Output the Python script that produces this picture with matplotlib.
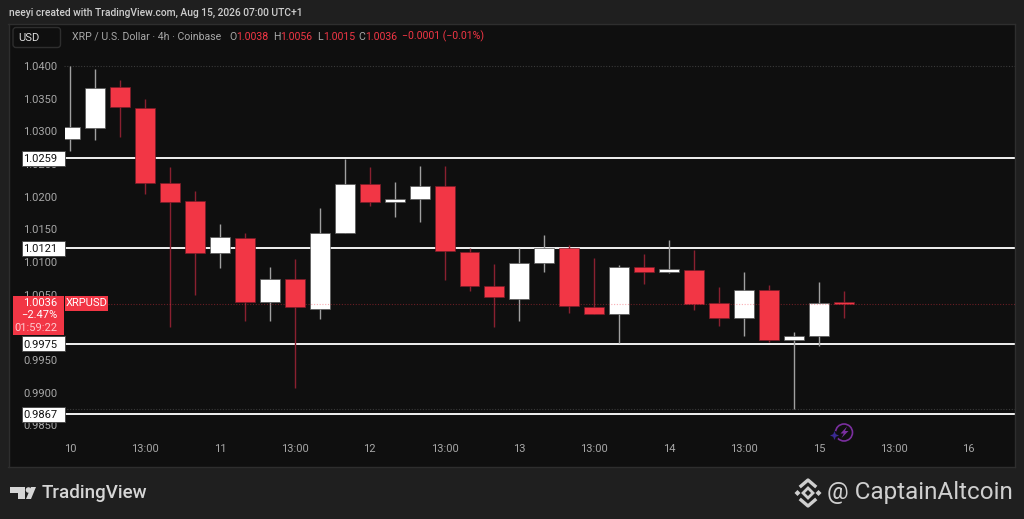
import matplotlib
matplotlib.use("Agg")
import matplotlib.pyplot as plt
from matplotlib.patches import Rectangle, FancyBboxPatch, Polygon, Circle
from matplotlib.transforms import blended_transform_factory, Bbox, TransformedBbox

plt.rcParams['font.family'] = ['Roboto', 'DejaVu Sans']

# candles, 4h bars starting Aug 10 00:00
opens = [1.0289, 1.0305, 1.0368, 1.0336, 1.0221, 1.0193, 1.0113, 1.0136, 1.0039, 1.0074, 1.0028,
         1.0144, 1.0220, 1.0192, 1.0196, 1.0217, 1.0116, 1.0063, 1.0044, 1.0099, 1.0122, 1.0031,
         1.0021, 1.0092, 1.0085, 1.0088, 1.0037, 1.0015, 1.0057, 0.9980, 0.9986, 1.0038]
highs = [1.0400, 1.0395, 1.0379, 1.0349, 1.0246, 1.0209, 1.0158, 1.0145, 1.0092, 1.0104, 1.0182,
         1.0257, 1.0246, 1.0222, 1.0247, 1.0247, 1.0122, 1.0097, 1.0122, 1.0142, 1.0126, 1.0106,
         1.0095, 1.0112, 1.0134, 1.0119, 1.0062, 1.0084, 1.0065, 0.9993, 1.0070, 1.0056]
lows = [1.0270, 1.0286, 1.0292, 1.0204, 1.0001, 1.0049, 1.0091, 1.0010, 1.0009, 0.9907, 1.0012,
        1.0144, 1.0186, 1.0169, 1.0161, 1.0073, 1.0055, 1.0001, 1.0010, 1.0084, 1.0022, 1.0020,
        0.9976, 1.0067, 1.0083, 1.0026, 1.0002, 0.9986, 0.9978, 0.9875, 0.9972, 1.0015]
closes = [1.0307, 1.0367, 1.0337, 1.0221, 1.0192, 1.0114, 1.0138, 1.0039, 1.0074, 1.0031, 1.0145,
          1.0219, 1.0192, 1.0196, 1.0217, 1.0117, 1.0063, 1.0046, 1.0099, 1.0122, 1.0033, 1.0021,
          1.0092, 1.0085, 1.0090, 1.0036, 1.0015, 1.0057, 0.9981, 0.9987, 1.0037, 1.0036]

level_prices = [1.0259, 1.0121, 0.9975, 0.9867]
y_ticks = [1.04, 1.035, 1.03, 1.025, 1.02, 1.015, 1.01, 1.005, 1.0, 0.995, 0.99, 0.985]
x_tick_pos = [0, 3, 6, 9, 12, 15, 18, 21, 24, 27, 30, 33, 36]
x_tick_labels = ['10', '13:00', '11', '13:00', '12', '13:00', '13', '13:00', '14', '13:00', '15', '13:00', '16']
range_high = 1.04
range_low = 0.9875
last_close = 1.0036

BG = '#1f1f1f'
PANEL = '#0f0f0f'
RED = '#f23645'
WHITE = '#ffffff'
W, H = 1024, 519

fig = plt.figure(figsize=(W / 100, H / 100), dpi=100, facecolor=BG)

# main chart panel, edges in pixels
left, right, top, bottom = 8.5, 1015, 23.5, 466.5
ax = fig.add_axes([left / W, 1 - bottom / H, (right - left) / W, (bottom - top) / H], facecolor=PANEL)

px_per_bar = 24.95
px_per_unit = 6533
x0 = 70.3
y0 = 66
ax.set_xlim((left - x0) / px_per_bar, (right - x0) / px_per_bar)
ax.set_ylim(range_high - (bottom - y0) / px_per_unit, range_high - (top - y0) / px_per_unit)

for s in ax.spines.values():
    s.set_color('#2e2e2e')
    s.set_linewidth(1)

ax.set_yticks(y_ticks)
ax.set_yticklabels([f'{v:.4f}' for v in y_ticks])
ax.tick_params(axis='y', length=0, pad=-35, labelcolor='#a8a8a8', labelsize=8)
ax.set_xticks(x_tick_pos)
ax.set_xticklabels(x_tick_labels)
ax.tick_params(axis='x', length=0, pad=-16, labelcolor='#a8a8a8', labelsize=8)

# x position of the price scale edge as axes fraction
scale_edge = (64 - left) / (right - left)
label_edge = (108 - left) / (right - left)
# candle bodies get cut off at the price scale
chart_clip = TransformedBbox(Bbox([[scale_edge + 0.001, 0], [1, 1]]), ax.transAxes)

# range markers and support/resistance lines sit behind candles
for p in (range_high, range_low):
    ax.axhline(p, xmin=scale_edge, color='#3a3a3a', lw=0.8, ls=(0, (1, 1.5)), zorder=1)
for p in level_prices:
    ax.axhline(p, xmin=scale_edge, color='#f2f2f2', lw=1.4, zorder=2)

for i in range(len(opens)):
    up = closes[i] > opens[i]
    wick = '#a0a0a0' if up else '#8a2030'
    ax.vlines(i, lows[i], highs[i], color=wick, lw=1, zorder=3)
    bot = min(opens[i], closes[i])
    hgt = max(abs(closes[i] - opens[i]), 0.0003)
    bars = ax.bar(i, hgt, bottom=bot, width=0.8, color=WHITE if up else RED,
                  edgecolor='#555555' if up else '#7a1c28', linewidth=0.5, zorder=4)
    bars[0].set_clip_box(chart_clip)

ax.axhline(last_close, xmin=label_edge, color=RED, alpha=0.4, lw=0.8, ls=(0, (1, 1.5)), zorder=5)

# labels on the price scale, x in axes fraction and y in data
tr = blended_transform_factory(ax.transAxes, ax.transData)
box_l = (22 - left) / (right - left)
box_w = (64.5 - 22) / (right - left)
for p in level_prices:
    ax.add_patch(Rectangle((box_l, p - 7.5 / px_per_unit), box_w, 15 / px_per_unit, transform=tr,
                           facecolor=WHITE, edgecolor='#444444', lw=0.6, zorder=7, clip_on=False))
    ax.text((57 - left) / (right - left), p, f'{p:.4f}', transform=tr, ha='right', va='center_baseline',
            color='#111111', fontsize=8, zorder=8)

# overlay in pixel coordinates for header, legend and logos
ov = fig.add_axes([0, 0, 1, 1], facecolor='none')
ov.set_xlim(0, W)
ov.set_ylim(H, 0)
ov.axis('off')

ov.text(9, 13, 'neeyi created with TradingView.com, Aug 15, 2026 07:00 UTC+1', color='#cfcfcf',
        fontsize=7.4, fontweight='medium', va='center')

ov.add_patch(FancyBboxPatch((13, 27.5), 47.5, 20, boxstyle='round,pad=0,rounding_size=3',
                            facecolor=PANEL, edgecolor='#2e2e2e', lw=1))
ov.text(29, 38, 'USD', color='#dddddd', fontsize=8, ha='center', va='center')
ov.text(72, 36.5, 'XRP / U.S. Dollar · 4h · Coinbase', color='#a8a8a8', fontsize=7.6, va='center')
for x, letter in zip((229, 273, 317, 358), 'OHLC'):
    ov.text(x, 36.5, letter, color='#a8a8a8', fontsize=7.6, va='center')
for x, val in zip((236, 280, 323, 365), ('1.0038', '1.0056', '1.0015', '1.0036')):
    ov.text(x, 36.5, val, color=RED, fontsize=7.6, va='center')
ov.text(402, 36.5, '−0.0001 (−0.01%)', color=RED, fontsize=7.6, va='center')

# last price tag
ov.add_patch(Rectangle((13, 296), 51, 39, facecolor=RED, edgecolor='none'))
ov.add_patch(Rectangle((65, 296), 43, 15, facecolor=RED, edgecolor='none'))
ov.text(57, 303.5, '1.0036', color='white', fontsize=8, ha='right', va='center')
ov.text(57, 315.5, '−2.47%', color='white', fontsize=8, ha='right', va='center')
ov.text(57, 328, '01:59:22', color='#ffc9ce', fontsize=8, ha='right', va='center')
ov.text(86.5, 303.5, 'XRPUSD', color='white', fontsize=8, ha='center', va='center')

# TradingView logo
logo = '#d6d6d6'
ov.add_patch(Polygon([(10, 487), (25, 487), (25, 499), (18, 499), (18, 493), (10, 493)], facecolor=logo))
ov.add_patch(Circle((28.5, 490), 2.8, facecolor=logo))
ov.add_patch(Polygon([(26, 499), (31, 487), (36, 487), (31, 499)], facecolor=logo))
ov.text(42, 493, 'TradingView', color=logo, fontsize=13.5, fontweight='medium', va='center')

# CaptainAltcoin mark
mark = '#cfcfcf'
cx, cy = 808, 493
ov.add_patch(Polygon([(cx - 5, cy), (cx, cy - 5), (cx + 5, cy), (cx, cy + 5)], facecolor='none', edgecolor=mark, lw=2))
ov.add_patch(Polygon([(cx - 13.5, cy), (cx - 10.5, cy - 3), (cx - 7.5, cy), (cx - 10.5, cy + 3)], facecolor=mark))
ov.add_patch(Polygon([(cx + 13.5, cy), (cx + 10.5, cy - 3), (cx + 7.5, cy), (cx + 10.5, cy + 3)], facecolor=mark))
ov.plot([cx - 7, cx, cx + 7], [cy - 7, cy - 13, cy - 7], color=mark, lw=2.4)
ov.plot([cx - 7, cx, cx + 7], [cy + 7, cy + 13, cy + 7], color=mark, lw=2.4)
ov.text(827, 493, '@ CaptainAltcoin', color=mark, fontsize=17.5, va='center')

# purple lightning badge
ov.add_patch(Circle((844, 432.5), 8.5, facecolor='none', edgecolor='#7b2fa0', lw=1.2))
ov.add_patch(Polygon([(847, 426.5), (840.5, 433.5), (843.8, 433.5), (841.5, 438), (848.5, 431), (845, 431)],
                     facecolor='#7b2fa0'))
ov.add_patch(Circle((834.5, 435.5), 4.5, facecolor=PANEL, edgecolor='none'))
ov.add_patch(Polygon([(834.5, 431), (835.8, 434.2), (839, 435.5), (835.8, 436.8), (834.5, 440), (833.2, 436.8),
                      (830, 435.5), (833.2, 434.2)], facecolor='#3b2a94'))

fig.savefig('out.png', dpi=100, facecolor=BG)
